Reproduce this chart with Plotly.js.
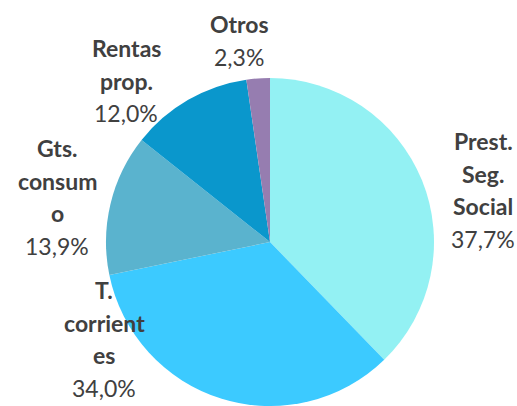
<!DOCTYPE html>
<html><head><meta charset="utf-8">
<script src="https://cdn.plot.ly/plotly-3.0.1.min.js"></script>
<style>html,body{margin:0;padding:0;background:#fff;}#chart{width:517px;height:406px;}</style>
</head><body><div id="chart"></div>
<script>
const categories = ['Prest. Seg. Social','T. corrientes','Gts. consumo','Rentas prop.','Otros'];
const values = [37.7, 34.0, 13.9, 12.0, 2.3];
const labelLines = [['Prest.','Seg.','Social'], ['T.','corrient','es'], ['Gts.','consum','o'], ['Rentas','prop.'], ['Otros']];
const colors = ['#93F1F3','#3CCAFF','#5AB3CE','#0A97CC','#967DB0'];

// label anchor (pixel centre x, first-line centre y)
const anchors = [[483,141],[104,290],[57,148],[126,48],[239,24]];
const W = 517, H = 406, LH = 32.6;

const annotations = [];
categories.forEach((c, i) => {
  const lines = labelLines[i].map(t => ({t, bold:true}));
  lines.push({t: values[i].toFixed(1).replace('.', ',') + '%', bold:false});
  lines.forEach((ln, j) => {
    annotations.push({
      xref:'paper', yref:'paper',
      x: anchors[i][0]/W, y: 1 - (anchors[i][1] + j*LH)/H,
      xanchor:'center', yanchor:'middle', showarrow:false,
      text: ln.bold ? '<b>'+ln.t+'</b>' : ln.t,
      font:{family:'Lato, "Open Sans", sans-serif', size:23, color:'#404040'}
    });
  });
});

const trace = {
  type:'pie', labels:categories, values:values, sort:false,
  direction:'clockwise', rotation:0,
  marker:{colors:colors, line:{width:0}},
  textinfo:'none', hoverinfo:'label+percent',
  domain:{x:[106/W, 434/W], y:[0, 1-78/H]}
};
Plotly.newPlot('chart', [trace], {
  width:W, height:H, margin:{l:0,r:0,t:0,b:0},
  showlegend:false, paper_bgcolor:'#fff', annotations:annotations
}, {displayModeBar:false, staticPlot:true});
</script></body></html>
